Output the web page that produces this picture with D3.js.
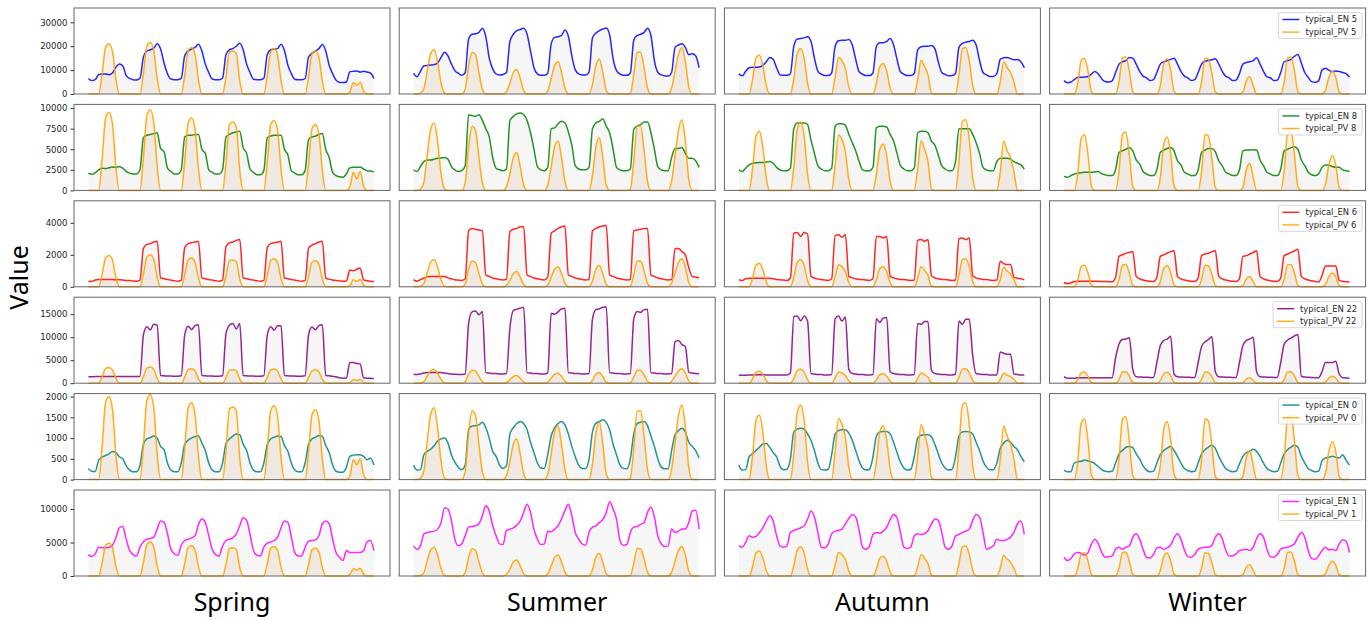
<!DOCTYPE html>
<html><head><meta charset="utf-8">
<script src="https://cdn.jsdelivr.net/npm/d3@7"></script>
<style>body{margin:0;background:#fff}</style>
</head><body>
<svg id="chart" width="1372" height="620"></svg>
<script>
// Typical week profiles (one sample every 2 h, 7 days = 84 samples) per meter and season
const seasons = ["Spring", "Summer", "Autumn", "Winter"];
const meters = ["5", "8", "6", "22", "0", "1"];
const yTicks = [[0,10000,20000,30000],[0,2500,5000,7500,10000],[0,2000,4000],[0,5000,10000,15000],[0,500,1000,1500,2000],[0,5000,10000]];
const yMax = [36000, 10450, 5375, 18700, 2072, 12840];
const enColors = ["blue", "green", "red", "purple", "teal", "magenta"];
const pvColor = "orange";

// ---- meter 5 ----
const EN5_spring = [
6500,5600,6000,8200,8400,8400,8100,8800,11200,12600,11800,7700,
6500,6000,5900,6600,15500,18000,18500,19200,21000,18800,13000,8500,
6300,6000,6000,6500,16000,18000,18800,19500,20800,18000,12500,9000,
6300,6000,6000,6600,16500,18500,19000,20000,21200,18500,12500,9000,
6200,6000,6000,6500,16500,18500,18800,19000,20800,18200,12000,8500,
6200,6000,6000,6400,15500,17000,18000,19000,20700,18000,12000,8500,
5800,4900,4800,5000,9300,9500,9600,9200,9500,9200,8800,6500];
const EN5_summer = [
8700,7200,9500,11800,12000,12100,12300,13000,15400,17500,16000,12600,
9800,8700,7800,9000,23000,25000,25200,25800,27500,24000,15000,10500,
8400,8000,8200,9000,22000,25000,26500,27000,27500,25000,18000,11000,
8400,7800,7800,8700,21000,23700,24000,24500,26800,24200,16000,10200,
8400,8000,8000,9200,23500,25500,26500,27200,27600,24700,14700,9800,
8400,7800,7800,8800,22500,24500,25000,25800,27500,24400,14000,9100,
8000,7600,7500,9000,19500,20500,21000,19500,16500,16800,16000,11000];
const EN5_autumn = [
8400,7600,9500,11000,11200,11200,11300,12000,13500,15300,14500,11000,
8000,7800,7800,8500,20000,23000,23200,23500,24000,22000,15000,9500,
8300,7700,7700,8800,20000,22300,22500,22500,22800,20500,14500,9300,
8300,7700,7700,8800,20000,21500,21500,22000,23200,20500,14500,9300,
8300,7700,7700,8600,18500,19800,20000,20000,20300,19000,13500,9000,
8200,7600,7700,8600,19500,21200,21700,22000,22500,20500,14000,9000,
8000,7300,7300,8500,14500,15200,15300,14800,14300,14400,13500,11000];
const EN5_winter = [
5600,4700,5000,6000,7000,7000,7100,7300,8400,9400,8400,6300,
5200,5000,5500,9000,12500,13500,14000,15300,15000,12500,9500,7500,
6800,5600,6000,9000,12500,13500,14000,14500,15000,12500,9500,7500,
6800,5600,6000,9000,12500,13800,14000,14300,14800,12500,9500,7500,
6800,5600,5800,8500,12500,13200,13500,14000,15200,12500,9500,7200,
6800,5600,5800,9000,13500,14000,14500,15800,16500,13000,9000,7000,
5200,4900,5500,10000,10800,10000,9400,9600,9400,9000,8500,7000];
const PV5_spring = [
0,0,0,0,8400,19500,21000,17900,6300,0,0,0,
0,0,0,0,8600,20100,21600,18400,6500,0,0,0,
0,0,0,0,7800,18100,19500,16600,5900,0,0,0,
0,0,0,0,7200,17500,18000,17000,5400,0,0,0,
0,0,0,0,7600,17700,19000,16200,5700,0,0,0,
0,0,0,0,7200,16700,18000,15300,5400,0,0,0,
0,0,0,0,800,4700,3700,4900,1200,0,0,0];
const PV5_summer = [
0,0,300,2200,10000,17000,18500,13300,4600,400,0,0,
0,0,0,2000,12000,17500,16500,9000,2000,0,0,0,
0,0,0,1000,4500,9000,10300,6500,1500,0,0,0,
0,0,0,1300,6500,12000,13500,9000,2500,0,0,0,
0,0,0,0,4000,12000,14500,9000,1500,0,0,0,
0,0,0,300,8000,17500,17500,11000,2500,0,0,0,
0,0,0,2500,9500,16500,19500,13500,3000,0,0,0];
const PV5_autumn = [
0,0,0,0,6000,15000,16300,12000,3500,0,0,0,
0,0,0,0,6500,17000,19000,15000,4500,0,0,0,
0,0,0,0,7000,15300,14000,10500,3000,0,0,0,
0,0,0,0,4500,11500,12800,9500,2500,0,0,0,
0,0,0,0,6000,14000,11500,8000,500,0,0,0,
0,0,0,0,8000,19000,19500,14000,3500,0,0,0,
0,0,0,0,5000,13500,11000,9000,5000,0,0,0];
const PV5_winter = [
0,0,0,0,4500,14000,15000,9500,1000,0,0,0,
0,0,0,0,5000,15000,15500,9500,1000,0,0,0,
0,0,0,0,3500,12500,14800,10000,1200,0,0,0,
0,0,0,0,5000,15000,14500,8500,800,0,0,0,
0,0,0,0,800,5500,7200,3500,0,0,0,0,
0,0,0,0,5000,15200,15500,9500,1000,0,0,0,
0,0,0,0,1500,7000,9500,7000,800,0,0,0];

// ---- meter 8 ----
const EN8_spring = [
2100,1950,2150,2500,2700,2650,2750,2850,2800,2900,2700,2300,
2100,2000,2000,2500,6400,6700,6800,6900,7000,5100,4700,2700,
2300,2000,2000,2500,6500,6700,6700,6800,6800,5000,4500,2500,
2200,2000,2000,2500,6500,6800,7000,7100,7200,5200,4500,2600,
2200,1900,1900,2400,6400,6600,6700,6700,6700,5000,4300,2400,
2100,1900,1900,2400,6200,6500,6600,6800,6900,5000,4000,2200,
1800,1650,1600,2000,2750,2800,2800,2850,2600,2400,2350,2250];
const EN8_summer = [
2500,2300,2900,3500,3700,3700,3800,3900,3950,4000,3800,2900,
2500,2300,2400,3000,9200,9100,9000,9200,8500,7500,6500,4000,
2700,2500,2400,2600,8500,9000,9300,9400,9200,8500,7000,5000,
2900,2500,2400,2800,7500,7600,8100,8400,8200,7100,5500,3000,
2600,2500,2500,2800,7500,8200,8400,8700,7800,7000,5000,2800,
2500,2400,2400,2600,7400,7800,8000,8300,8300,7000,5000,2900,
2500,2400,2400,4000,5100,5100,5200,4500,3900,3900,3600,2800];
const EN8_autumn = [
2500,2300,2700,3100,3300,3350,3400,3400,3450,3500,3300,2800,
2500,2400,2400,2700,7500,8200,8200,8200,8000,6100,4500,3000,
2600,2400,2400,2700,7800,8100,8100,7900,6800,5800,4800,3500,
2500,2400,2400,2800,7600,7800,7800,7700,6800,6000,4500,3000,
2600,2400,2400,2700,7000,7200,7200,7000,6000,5500,4300,3000,
2600,2400,2400,3500,7500,7500,7500,7500,6800,5800,4500,2800,
2500,2400,2400,3500,3900,3900,3900,3800,3500,3300,3100,2600];
const EN8_winter = [
1700,1600,1800,2000,2100,2150,2200,2200,2200,2250,2300,2000,
1900,1800,1800,2500,4600,4800,5000,5200,4800,3700,3200,2300,
2000,1800,1800,2500,4600,4900,5100,5200,4800,3600,3100,2200,
2000,1800,1800,2500,4600,4900,5100,5100,4700,3600,3000,2200,
2000,1800,1800,2500,4800,4900,4900,4950,4900,3700,3000,2200,
2000,1800,1800,2600,4800,5000,5200,5300,5000,3700,3000,2200,
1900,1800,2000,2800,3100,3100,2900,2800,2800,2500,2400,2300];
const PV8_spring = [
0,0,0,0,3800,8800,9500,8100,2800,0,0,0,
0,0,0,0,3900,9100,9800,8300,2900,0,0,0,
0,0,0,0,3500,8200,8800,7500,2600,0,0,0,
0,0,0,0,3300,8000,8300,7700,2400,0,0,0,
0,0,0,0,3400,8000,8500,7300,2600,0,0,0,
0,0,0,0,3200,7500,8000,6900,2400,0,0,0,
0,0,0,0,400,2200,1400,2300,500,0,0,0];
const PV8_summer = [
0,0,130,1000,4400,7500,8200,5900,2000,180,0,0,
0,0,0,900,5300,7800,7300,4000,900,0,0,0,
0,0,0,450,2000,4000,4600,2900,650,0,0,0,
0,0,0,600,2900,5300,6000,4000,1100,0,0,0,
0,0,0,0,1800,5300,6400,4000,650,0,0,0,
0,0,0,130,3500,7800,7800,4900,1100,0,0,0,
0,0,0,1100,4200,7300,8600,6000,1300,0,0,0];
const PV8_autumn = [
0,0,0,0,2600,6600,7200,5300,1500,0,0,0,
0,0,0,0,2800,7400,8300,6600,2000,0,0,0,
0,0,0,0,3000,6700,6200,4600,1300,0,0,0,
0,0,0,0,2000,5000,5600,4200,1100,0,0,0,
0,0,0,0,2600,6000,5000,3500,200,0,0,0,
0,0,0,0,3500,8400,8600,6200,1500,0,0,0,
0,0,0,0,2200,6000,4800,4000,2200,0,0,0];
const PV8_winter = [
0,0,0,0,2000,6300,6800,4300,450,0,0,0,
0,0,0,0,2300,6800,7100,4300,450,0,0,0,
0,0,0,0,1500,5600,6500,4500,550,0,0,0,
0,0,0,0,2300,6800,6600,3800,350,0,0,0,
0,0,0,0,350,2500,3300,1600,0,0,0,0,
0,0,0,0,2300,6900,7100,4300,450,0,0,0,
0,0,0,0,700,3100,4200,3100,350,0,0,0];

// ---- meter 6 ----
const EN6_spring = [
330,340,420,450,450,450,450,450,440,440,430,400,
400,370,350,420,2400,2650,2700,2800,2850,560,500,450,
420,380,350,420,2450,2700,2750,2800,2850,560,500,450,
420,380,350,420,2500,2750,2800,2900,2950,560,500,450,
420,380,350,400,2450,2700,2750,2800,2850,550,500,450,
420,380,350,400,2400,2600,2700,2800,2850,550,480,430,
400,370,340,360,1050,1000,1100,1180,430,380,350,330];
const EN6_summer = [
440,350,450,550,620,640,650,650,650,640,560,500,
440,420,400,500,3500,3650,3600,3550,3500,740,650,550,
500,450,430,480,3450,3600,3650,3750,3750,740,650,550,
500,450,430,600,3350,3500,3650,3750,3800,740,650,550,
500,450,430,450,3500,3650,3750,3800,3850,740,650,550,
500,450,430,450,3500,3550,3600,3650,3650,740,650,550,
500,450,430,450,2400,2400,2200,2000,1200,650,600,560];
const EN6_autumn = [
440,400,500,540,540,540,540,540,540,530,500,460,
440,420,400,550,3350,3400,3150,3400,3300,650,550,480,
460,420,400,500,3200,3250,3100,3250,650,560,500,460,
460,420,400,500,3150,3150,3050,3150,650,560,500,460,
460,420,400,430,2900,2950,2850,2950,700,560,500,460,
460,420,400,430,3000,3050,2950,3050,700,560,500,460,
450,420,400,420,1600,1450,1400,1400,600,540,500,440];
const EN6_winter = [
270,200,250,330,340,350,350,350,350,350,340,330,
330,320,320,600,1900,2000,2100,2150,2200,650,500,420,
380,340,330,600,1900,2000,2100,2200,2250,650,500,420,
380,340,330,550,1950,2050,2100,2200,2250,650,500,420,
380,340,330,500,1900,1950,2050,2150,2250,650,500,420,
380,340,330,550,1950,2050,2150,2250,2350,650,500,420,
380,330,300,700,1300,1300,1300,1300,400,340,320,300];
const PV6_spring = [
0,0,0,0,780,1800,1950,1670,590,0,0,0,
0,0,0,0,800,1870,2000,1710,600,0,0,0,
0,0,0,0,730,1680,1800,1550,550,0,0,0,
0,0,0,0,670,1620,1670,1580,500,0,0,0,
0,0,0,0,700,1640,1750,1500,530,0,0,0,
0,0,0,0,670,1550,1650,1420,500,0,0,0,
0,0,0,0,70,440,340,450,110,0,0,0];
const PV6_summer = [
0,0,30,200,920,1560,1700,1220,420,40,0,0,
0,0,0,180,1100,1600,1520,830,180,0,0,0,
0,0,0,90,410,830,950,600,140,0,0,0,
0,0,0,120,600,1100,1250,830,230,0,0,0,
0,0,0,0,370,1100,1330,830,140,0,0,0,
0,0,0,30,740,1610,1610,1010,230,0,0,0,
0,0,0,230,870,1520,1750,1240,280,0,0,0];
const PV6_autumn = [
0,0,0,0,540,1350,1470,1080,320,0,0,0,
0,0,0,0,590,1530,1710,1350,410,0,0,0,
0,0,0,0,630,1380,1260,950,270,0,0,0,
0,0,0,0,450,1130,1250,930,250,0,0,0,
0,0,0,0,540,1260,1040,720,50,0,0,0,
0,0,0,0,720,1710,1760,1260,320,0,0,0,
0,0,0,0,450,1220,990,810,450,0,0,0];
const PV6_winter = [
0,0,0,0,410,1270,1350,860,90,0,0,0,
0,0,0,0,450,1350,1400,860,90,0,0,0,
0,0,0,0,320,1130,1330,900,110,0,0,0,
0,0,0,0,450,1350,1310,770,70,0,0,0,
0,0,0,0,70,500,650,320,0,0,0,0,
0,0,0,0,450,1370,1400,860,90,0,0,0,
0,0,0,0,140,630,860,630,70,0,0,0];

// ---- meter 22 ----
const EN22_spring = [
1400,1400,1450,1450,1450,1450,1450,1450,1450,1450,1450,1450,
1450,1450,1450,1500,10500,12300,11600,12800,12600,1650,1600,1550,
1550,1500,1500,1600,10500,12400,11700,12500,12700,1650,1600,1550,
1550,1500,1500,1600,10800,12600,13000,11800,13000,1650,1600,1550,
1550,1500,1500,1600,10500,12300,11500,12500,12500,1650,1600,1550,
1550,1500,1500,1600,10500,12200,11600,12500,12700,1650,1600,1500,
1400,1200,1100,1150,4500,4500,4300,4200,1150,1100,1050,1000];
const EN22_summer = [
1950,1900,2000,2200,2300,2300,2300,2300,2300,2200,2100,2000,
1950,1900,1900,2000,13000,15500,15700,14900,15600,2300,2200,2100,
2100,2000,2000,2100,12000,15800,16100,16300,16500,2300,2200,2100,
2100,2000,2000,2300,15200,15000,15500,16200,16300,2300,2200,2100,
2100,2000,2000,2100,14000,16000,16200,16500,16600,2300,2200,2100,
2100,2000,2000,2100,14000,15600,15400,16000,16100,2300,2200,2100,
2100,2000,2000,2100,9000,9300,8400,8000,2400,2200,2100,2050];
const EN22_autumn = [
1800,1750,1750,1800,1800,1850,1850,1850,1800,1800,1800,1800,
1800,1800,1800,2200,14500,14600,13600,14600,13500,2100,2000,1900,
1900,1800,1800,1900,14000,14600,13500,14400,3000,2100,2000,1900,
1900,1800,1800,1900,14000,13200,14200,14300,2500,2100,2000,1900,
1900,1800,1800,1900,13000,12800,13400,13400,2800,2100,2000,1900,
1900,1800,1800,2000,13500,12800,13900,13900,6000,2100,2000,1900,
1900,1800,1800,1800,6800,6500,6300,6300,2000,1900,1800,1800];
const EN22_winter = [
1400,1100,1100,1100,1200,1200,1200,1200,1200,1200,1200,1200,
1200,1200,1200,5500,8500,9500,9600,9900,3000,1400,1350,1300,
1300,1250,1250,4500,8200,9300,9600,10200,2000,1400,1350,1300,
1300,1250,1250,4500,8000,9000,9500,10100,2500,1400,1350,1300,
1300,1250,1250,4500,8200,9300,9600,10000,2500,1400,1350,1300,
1300,1250,1250,4500,8500,9400,9800,10300,10600,1500,1350,1300,
1250,1200,1200,2500,4500,4500,4500,4800,2000,1200,1150,1100];
const PV22_spring = [
0,0,0,0,1360,3160,3400,2900,1020,0,0,0,
0,0,0,0,1390,3260,3500,2980,1050,0,0,0,
0,0,0,0,1260,2930,3160,2690,960,0,0,0,
0,0,0,0,1170,2840,2920,2750,870,0,0,0,
0,0,0,0,1230,2870,3080,2620,920,0,0,0,
0,0,0,0,1170,2700,2920,2480,870,0,0,0,
0,0,0,0,130,760,600,790,190,0,0,0];
const PV22_summer = [
0,0,50,360,1620,2750,3000,2150,750,70,0,0,
0,0,0,320,1940,2830,2670,1460,320,0,0,0,
0,0,0,160,730,1460,1670,1050,240,0,0,0,
0,0,0,210,1050,1940,2190,1460,400,0,0,0,
0,0,0,0,650,1940,2350,1460,240,0,0,0,
0,0,0,50,1300,2830,2830,1780,400,0,0,0,
0,0,0,400,1540,2670,3160,2190,490,0,0,0];
const PV22_autumn = [
0,0,0,0,960,2400,2610,1920,560,0,0,0,
0,0,0,0,1040,2720,3040,2400,720,0,0,0,
0,0,0,0,1120,2450,2240,1680,480,0,0,0,
0,0,0,0,720,1840,2050,1520,400,0,0,0,
0,0,0,0,960,2240,1840,1280,80,0,0,0,
0,0,0,0,1280,3040,3120,2240,560,0,0,0,
0,0,0,0,800,2160,1760,1440,800,0,0,0];
const PV22_winter = [
0,0,0,0,720,2250,2420,1530,160,0,0,0,
0,0,0,0,800,2420,2500,1530,160,0,0,0,
0,0,0,0,560,2010,2380,1610,190,0,0,0,
0,0,0,0,800,2420,2330,1370,130,0,0,0,
0,0,0,0,130,890,1160,560,0,0,0,0,
0,0,0,0,800,2450,2500,1530,160,0,0,0,
0,0,0,0,240,1130,1530,1130,130,0,0,0];

// ---- meter 0 ----
const EN0_spring = [
270,200,195,470,540,580,620,680,650,550,500,330,
230,190,190,350,850,980,1010,1050,1000,800,720,400,
230,190,190,400,850,950,1000,1040,1050,880,700,400,
230,190,190,400,870,980,1050,1100,1080,850,700,400,
230,190,190,400,850,980,1020,1050,1040,820,680,400,
230,190,190,400,850,980,1020,1060,1040,820,650,350,
200,180,180,300,560,590,600,600,560,480,520,350];
const EN0_summer = [
350,230,240,600,680,730,820,930,980,1000,880,600,
420,300,240,350,1200,1290,1300,1320,1380,1250,1000,680,
560,350,270,330,1100,1250,1350,1400,1350,1200,900,650,
400,280,270,600,1050,1250,1350,1400,1320,1100,800,550,
350,270,270,500,1150,1360,1400,1440,1380,1200,850,600,
350,270,260,500,1100,1350,1380,1400,1300,1050,800,500,
300,260,260,700,1080,1180,1240,1150,900,800,700,520];
const EN0_autumn = [
350,230,240,550,620,700,780,860,870,780,650,550,
320,240,250,500,1150,1220,1240,1220,1100,950,700,400,
240,230,250,600,1100,1180,1200,1200,1120,950,700,450,
280,230,250,550,1050,1150,1160,1160,1100,900,650,420,
280,230,250,550,1000,1070,1080,1080,1030,850,620,400,
280,230,250,550,1050,1150,1160,1150,1100,900,700,450,
300,240,240,400,750,880,950,900,800,720,560,430];
const EN0_winter = [
230,190,190,400,430,440,470,450,430,380,310,240,
200,190,200,400,620,700,780,800,770,620,500,330,
230,190,200,400,600,700,760,800,700,560,400,270,
220,190,200,400,620,720,780,830,750,560,400,270,
220,190,200,380,560,650,680,730,680,560,400,270,
220,190,200,400,620,720,780,830,780,560,400,270,
220,190,200,450,520,540,560,540,520,600,470,350];
const PV0_spring = [
0,0,0,0,800,1860,2000,1700,600,0,0,0,
0,0,0,0,820,1910,2050,1740,620,0,0,0,
0,0,0,0,740,1720,1850,1580,560,0,0,0,
0,0,0,0,700,1700,1750,1650,520,0,0,0,
0,0,0,0,710,1660,1780,1520,530,0,0,0,
0,0,0,0,670,1560,1680,1430,500,0,0,0,
0,0,0,0,80,480,360,500,120,0,0,0];
const PV0_summer = [
0,0,30,210,940,1590,1730,1240,430,40,0,0,
0,0,0,190,1130,1650,1550,850,190,0,0,0,
0,0,0,90,430,860,980,620,140,0,0,0,
0,0,0,120,620,1150,1300,850,240,0,0,0,
0,0,0,0,380,1130,1380,850,140,0,0,0,
0,0,0,30,760,1650,1650,1040,240,0,0,0,
0,0,0,240,890,1550,1800,1270,280,0,0,0];
const PV0_autumn = [
0,0,0,0,570,1430,1550,1140,330,0,0,0,
0,0,0,0,620,1620,1800,1430,430,0,0,0,
0,0,0,0,670,1480,1330,1000,290,0,0,0,
0,0,0,0,430,1150,1300,950,250,0,0,0,
0,0,0,0,570,1330,1090,760,50,0,0,0,
0,0,0,0,760,1800,1850,1330,330,0,0,0,
0,0,0,0,480,1300,1050,860,480,0,0,0];
const PV0_winter = [
0,0,0,0,440,1360,1460,920,100,0,0,0,
0,0,0,0,490,1460,1520,920,100,0,0,0,
0,0,0,0,340,1210,1400,970,120,0,0,0,
0,0,0,0,490,1460,1410,820,80,0,0,0,
0,0,0,0,80,530,700,340,0,0,0,0,
0,0,0,0,490,1500,1550,920,100,0,0,0,
0,0,0,0,150,680,920,680,80,0,0,0];

// ---- meter 1 ----
const EN1_spring = [
3200,2900,3300,4300,4200,4200,4300,4600,5700,7200,7400,5500,
3800,3200,3000,4300,5100,5500,5600,5800,7000,8200,8000,6300,
4000,3300,3100,4600,5300,5500,5700,6000,7700,8500,8000,6000,
4000,3200,3000,4500,5300,5500,5700,6300,7500,8700,8300,6200,
3800,3100,3000,4300,4900,5100,5300,5800,7200,8200,8000,5800,
3500,3000,3000,4300,5200,5300,5400,6000,7800,8200,7800,5500,
3500,2800,2300,3800,3500,3500,3500,3500,3800,5100,5300,3800];
const EN1_summer = [
4500,4000,4500,6300,6500,6600,6700,7000,8000,10200,10000,8300,
5500,4500,4800,6000,7300,7400,7500,7800,9000,10500,9700,7500,
6000,4800,4700,6800,7000,7200,7600,8200,9500,10700,9500,7000,
5500,4700,4800,6700,6600,7000,7500,8500,9800,10700,9000,6500,
5500,4800,4600,6500,7300,7500,8000,8400,9500,11100,10000,8500,
5300,4600,4700,6500,7300,7400,7700,8000,9500,10300,8800,6000,
4800,4400,4500,7000,6500,6700,7000,7000,8000,9700,9800,7000];
const EN1_autumn = [
4500,4300,5000,6000,5800,5900,6500,7200,8200,9000,8200,6000,
4500,4300,4500,6500,6800,7000,7200,7500,8500,9700,8800,6500,
4300,4200,4800,6300,6700,6800,7000,7800,8600,9200,8800,6800,
4300,4000,4500,6200,6500,6400,6700,7300,8400,9200,8700,6500,
4300,4100,4300,6000,6300,6200,6300,6800,7800,8500,8300,6500,
4300,4000,4500,6000,6200,6500,6700,7000,8300,9200,8800,6500,
4000,4200,4500,5500,5300,5300,5500,5800,6500,7800,8200,6200];
const EN1_winter = [
2800,2300,2600,3300,3500,3400,3100,3500,4800,5500,4800,3500,
2800,2900,3000,4000,4300,4000,4300,4500,5800,6300,5500,4000,
2800,2700,3200,4200,4300,4000,4200,4600,5700,6300,5500,3900,
2900,2800,3200,4000,4200,4300,4300,4600,5800,6300,5600,3900,
3000,3000,3300,3800,3900,4000,3800,4300,5600,6300,5800,4000,
2900,2800,3200,4000,4200,4300,4500,4800,5800,6500,5800,3800,
2600,2500,3000,3800,4300,3900,4000,3800,4800,5400,5200,3500];
const PV1_spring = [
0,0,0,0,1970,4580,4900,4200,1480,0,0,0,
0,0,0,0,2020,4720,5100,4320,1530,0,0,0,
0,0,0,0,1830,4250,4500,3900,1390,0,0,0,
0,0,0,0,1690,4110,4230,4000,1270,0,0,0,
0,0,0,0,1790,4160,4400,3810,1340,0,0,0,
0,0,0,0,1690,3920,4150,3600,1270,0,0,0,
0,0,0,0,190,1100,870,1150,280,0,0,0];
const PV1_summer = [
0,0,70,510,2320,3940,4300,3090,1070,90,0,0,
0,0,0,460,2780,4060,3830,2090,460,0,0,0,
0,0,0,230,1040,2090,2390,1510,350,0,0,0,
0,0,0,300,1510,2780,3130,2090,580,0,0,0,
0,0,0,0,930,2780,3360,2090,350,0,0,0,
0,0,0,70,1860,4060,4060,2550,580,0,0,0,
0,0,0,580,2200,3830,4400,3130,700,0,0,0];
const PV1_autumn = [
0,0,0,0,1380,3450,3750,2760,810,0,0,0,
0,0,0,0,1500,3910,4370,3450,1040,0,0,0,
0,0,0,0,1610,3520,3220,2420,690,0,0,0,
0,0,0,0,1040,2650,2940,2190,580,0,0,0,
0,0,0,0,1380,3220,2650,1840,120,0,0,0,
0,0,0,0,1840,4370,4490,3220,810,0,0,0,
0,0,0,0,1150,3110,2530,2070,1150,0,0,0];
const PV1_winter = [
0,0,0,0,1040,3250,3480,2200,230,0,0,0,
0,0,0,0,1160,3480,3600,2200,230,0,0,0,
0,0,0,0,810,2900,3430,2320,280,0,0,0,
0,0,0,0,1160,3480,3360,1970,190,0,0,0,
0,0,0,0,190,1280,1670,810,0,0,0,0,
0,0,0,0,1160,3530,3600,2200,230,0,0,0,
0,0,0,0,350,1620,2200,1620,190,0,0,0];

// grid of series: rows = meters, columns = seasons
const EN = [
  [EN5_spring, EN5_summer, EN5_autumn, EN5_winter],
  [EN8_spring, EN8_summer, EN8_autumn, EN8_winter],
  [EN6_spring, EN6_summer, EN6_autumn, EN6_winter],
  [EN22_spring, EN22_summer, EN22_autumn, EN22_winter],
  [EN0_spring, EN0_summer, EN0_autumn, EN0_winter],
  [EN1_spring, EN1_summer, EN1_autumn, EN1_winter]];
const PV = [
  [PV5_spring, PV5_summer, PV5_autumn, PV5_winter],
  [PV8_spring, PV8_summer, PV8_autumn, PV8_winter],
  [PV6_spring, PV6_summer, PV6_autumn, PV6_winter],
  [PV22_spring, PV22_summer, PV22_autumn, PV22_winter],
  [PV0_spring, PV0_summer, PV0_autumn, PV0_winter],
  [PV1_spring, PV1_summer, PV1_autumn, PV1_winter]];

// hour of the week for each sample
const hours = d3.range(0, 168, 2);

const svg = d3.select("#chart");
const W = 316, H = 86;
const colLeft = j => 74 + j * 325.2;
const rowTop = i => 8 + i * 96.4;
const pad = W * 0.05 / 1.1;
const x = d3.scaleLinear().domain([0, 167]).range([pad, W - pad]);
const tickFont = "'DejaVu Sans', sans-serif";

meters.forEach((m, i) => {
  const y = d3.scaleLinear().domain([0, yMax[i]]).range([H, 0]);
  const area = d3.area().x((d, k) => x(hours[k])).y0(H).y1(d => y(d)).curve(d3.curveMonotoneX);
  const line = d3.line().x((d, k) => x(hours[k])).y(d => y(d)).curve(d3.curveMonotoneX);

  seasons.forEach((s, j) => {
    const g = svg.append("g").attr("transform", `translate(${colLeft(j)},${rowTop(i)})`);
    const en = EN[i][j], pv = PV[i][j];

    g.append("path").datum(en).attr("d", area).attr("fill", "#808080").attr("fill-opacity", 0.07);
    g.append("path").datum(pv).attr("d", area).attr("fill", "#c88c46").attr("fill-opacity", 0.12);
    g.append("path").datum(en).attr("d", line).attr("fill", "none")
      .attr("stroke", enColors[i]).attr("stroke-opacity", 0.85).attr("stroke-width", 1.5);
    g.append("path").datum(pv).attr("d", line).attr("fill", "none")
      .attr("stroke", pvColor).attr("stroke-opacity", 0.9).attr("stroke-width", 1.5);

    g.append("rect").attr("width", W).attr("height", H)
      .attr("fill", "none").attr("stroke", "#666").attr("stroke-width", 1);

    if (j === 0) {
      const ax = g.append("g").call(d3.axisLeft(y).tickValues(yTicks[i])
        .tickSize(3.5).tickPadding(3).tickFormat(d3.format("d")));
      ax.select(".domain").remove();
      ax.selectAll("line").attr("stroke", "#333");
      ax.selectAll("text").attr("font-family", tickFont).attr("font-size", 8.6).attr("fill", "#262626");
    }

    if (j === 3) {
      const lg = g.append("g");
      const labels = [`typical_EN ${m}`, `typical_PV ${m}`];
      const colors = [enColors[i], pvColor];
      const box = lg.append("rect");
      const texts = labels.map((t, k) => lg.append("text")
        .attr("font-family", tickFont).attr("font-size", 8.4).attr("fill", "#262626")
        .attr("dy", "0.35em").text(t));
      const tw = d3.max(texts, t => t.node().getComputedTextLength());
      const bw = 4 + 17 + 6 + tw + 5, bh = 26;
      const bx = W - 3.5 - bw, by = 4.5;
      box.attr("x", bx).attr("y", by).attr("width", bw).attr("height", bh).attr("rx", 2)
        .attr("fill", "#fff").attr("fill-opacity", 0.8).attr("stroke", "#ccc").attr("stroke-width", 0.8);
      labels.forEach((t, k) => {
        const cy = by + 7 + k * 12.6;
        lg.append("line").attr("x1", bx + 4).attr("x2", bx + 21).attr("y1", cy).attr("y2", cy)
          .attr("stroke", colors[k]).attr("stroke-opacity", 0.85).attr("stroke-width", 1.5);
        texts[k].attr("x", bx + 27).attr("y", cy);
      });
    }
  });
});

// column titles
seasons.forEach((s, j) => {
  svg.append("text").attr("x", colLeft(j) + W / 2).attr("y", 611)
    .attr("text-anchor", "middle").attr("font-family", "'Noto Sans', sans-serif")
    .attr("font-size", 25).attr("fill", "#000").text(s);
});

// shared y label
svg.append("text").attr("transform", "translate(28,277.5) rotate(-90)")
  .attr("text-anchor", "middle").attr("font-family", "'Noto Sans', sans-serif")
  .attr("font-size", 25).attr("fill", "#000").text("Value");
</script>
</body></html>
